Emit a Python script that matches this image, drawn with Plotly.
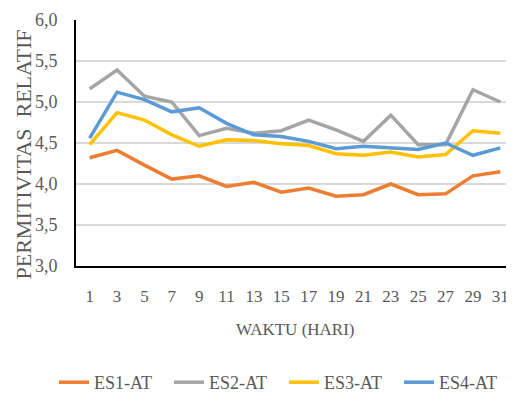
import plotly.graph_objects as go

# hari pengamatan (hanya hari ganjil yang tercatat)
hari = ["1", "3", "5", "7", "9", "11", "13", "15", "17", "19", "21", "23", "25", "27", "29", "31"]

es1_at = [4.32, 4.41, 4.23, 4.06, 4.10, 3.97, 4.02, 3.90, 3.95, 3.85, 3.87, 4.00, 3.87, 3.88, 4.10, 4.15]
es2_at = [5.16, 5.39, 5.07, 5.00, 4.59, 4.68, 4.62, 4.65, 4.78, 4.66, 4.52, 4.84, 4.48, 4.48, 5.15, 5.00]
es3_at = [4.48, 4.87, 4.78, 4.60, 4.46, 4.54, 4.53, 4.49, 4.47, 4.37, 4.35, 4.39, 4.33, 4.36, 4.65, 4.62]
es4_at = [4.56, 5.12, 5.03, 4.88, 4.93, 4.74, 4.60, 4.58, 4.52, 4.43, 4.46, 4.44, 4.42, 4.50, 4.35, 4.44]

y_ticks = [3.0, 3.5, 4.0, 4.5, 5.0, 5.5, 6.0]
y_labels = ["3,0", "3,5", "4,0", "4,5", "5,0", "5,5", "6,0"]

series = [
    ("ES1-AT", es1_at, "#ED7D31"),
    ("ES2-AT", es2_at, "#A5A5A5"),
    ("ES3-AT", es3_at, "#FFC000"),
    ("ES4-AT", es4_at, "#5B9BD5"),
]

font_serif = "Times New Roman"
text_grey = "#595959"

fig = go.Figure()
for name, vals, color in series:
    fig.add_trace(go.Scatter(
        x=hari,
        y=vals,
        mode="lines",
        name=name,
        line=dict(color=color, width=3.5),
    ))

# the page body has an 8px margin, so the figure is 8px smaller than the window
fig.update_layout(
    width=506,
    height=393,
    plot_bgcolor="white",
    paper_bgcolor="white",
    margin=dict(l=68, r=0, t=12, b=125),
    font=dict(family=font_serif, color=text_grey, size=17),
    showlegend=True,
    legend=dict(
        orientation="h",
        x=-0.032, xanchor="left",
        y=-0.475, yanchor="middle",
        font=dict(family=font_serif, size=18, color=text_grey),
        itemwidth=30,
        entrywidth=70,
        tracegroupgap=0,
    ),
    xaxis=dict(
        type="category",
        range=[-0.5, len(hari) - 0.5],
        showgrid=False,
        showline=True,
        linecolor="black",
        linewidth=2,
        ticks="",
        automargin=False,
        ticklabelstandoff=14,
        tickfont=dict(family=font_serif, size=17),
    ),
    yaxis=dict(
        range=[3.0, 6.0],
        tickvals=y_ticks,
        ticktext=y_labels,
        showgrid=True,
        gridcolor="#D9D9D9",
        gridwidth=2,
        showline=True,
        linecolor="black",
        linewidth=2,
        zeroline=False,
        ticks="",
        automargin=False,
        ticklabelstandoff=13,
        tickfont=dict(family=font_serif, size=18),
    ),
    annotations=[
        dict(
            text="WAKTU (HARI)",
            xref="paper", yref="paper",
            x=0.5, y=(273 - 339) / 256,
            xanchor="center", yanchor="middle",
            showarrow=False,
            font=dict(family=font_serif, size=17, color=text_grey),
        ),
        dict(
            text="PERMITIVITAS  RELATIF",
            xref="paper", yref="paper",
            x=(24 - 76) / 438, y=(273 - 157) / 256,
            xanchor="center", yanchor="middle",
            textangle=-90,
            showarrow=False,
            font=dict(family=font_serif, size=22, color=text_grey),
        ),
    ],
)

fig.write_html("out.html")
